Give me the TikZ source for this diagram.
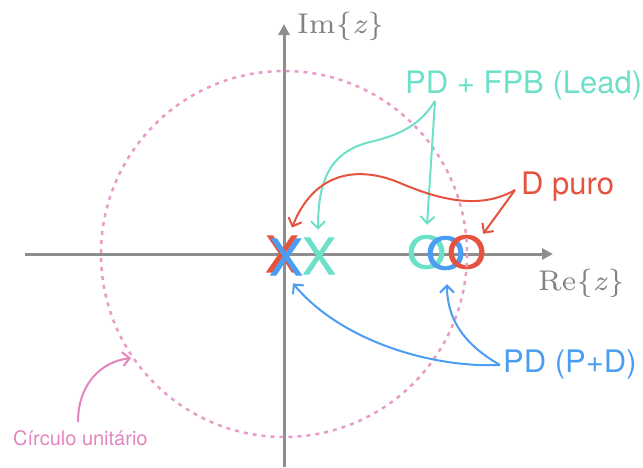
\documentclass[tikz,border=0pt]{standalone}
\usepackage{fontspec}
\newfontfamily\lab{TeX Gyre Heros}
\newfontfamily\mkf[FakeBold=1.2]{TeX Gyre Heros}
\newfontfamily\cmsev[ItalicFont=lmroman7-italic.otf]{lmroman7-regular.otf}
\usetikzlibrary{arrows.meta}
\definecolor{cteal}{HTML}{6CE0C9}
\definecolor{cred}{HTML}{E5533F}
\definecolor{cblue}{HTML}{4B9DF2}
\definecolor{cpink}{HTML}{E585C0}
\definecolor{cpinkc}{HTML}{E99CC9}
\definecolor{axgray}{HTML}{8E8E8E}
\definecolor{labgray}{HTML}{828282}
\begin{document}
\begin{tikzpicture}[x=1pt,y=-1pt,
  lbl/.style={inner sep=0pt,anchor=base west,font=\lab\fontsize{31}{31}\selectfont},
  mk/.style={inner sep=0pt,font=\mkf\fontsize{50}{50}\selectfont},
  conn/.style={line width=2pt,-{Straight Barb[length=7pt,width=14pt,line width=2pt]}},
  axis/.style={line width=3pt,draw=axgray,-{Triangle[length=11pt,width=11pt]}},
  axlbl/.style={inner sep=0pt,anchor=base west,text=labgray,font=\cmsev\fontsize{28.5}{28.5}\selectfont}]
\useasboundingbox (0,0) rectangle (643,467);
% axes
\coordinate (hl) at (25,254);
\coordinate (hr) at (553,254);
\coordinate (vb) at (284,467);
\coordinate (vt) at (284,24);
\coordinate (c) at (284,254);
\draw[axis] (hl) -- (hr);
\draw[axis] (vb) -- (vt);
\node[axlbl] (im) at (297,33) {Im\{\textit{z}\}};
\node[axlbl] (re) at (538,290) {Re\{\textit{z}\}};
% markers
\node[mk,text=cteal] (xt) at (319,256) {X};
\node[mk,text=cred] (xr) at (282,254) {X};
\node[mk,text=cblue] (xb) at (286,257) {X};
\node[mk,text=cteal] (ot) at (426.5,252) {\scalebox{1}[0.89]{O}};
\node[mk,text=cblue] (ob) at (445.5,253) {\scalebox{1}[0.89]{O}};
\node[mk,text=cred] (or) at (466.5,252) {\scalebox{1}[0.89]{O}};
% unit circle
\draw[cpinkc,line width=2.5pt,dash pattern=on 4pt off 5pt] (c) circle[radius=183];
% labels
\node[lbl,text=cteal] (lead) at (405,93) {PD + FPB (Lead)};
\node[lbl,text=cred] (dp) at (521,194) {D puro};
\node[lbl,text=cblue] (pd) at (503,372) {PD (P+D)};
\node[inner sep=0pt,anchor=base west,text=cpink,font=\lab\fontsize{20}{20}\selectfont] (circ) at (13,445) {Círculo unitário};
\coordinate (ucp) at (131,358);
% connectors
\draw[conn,cteal] ([xshift=30pt,yshift=-8pt]lead.base west) .. controls (420,125) and (400,135) .. (370,142) .. controls (330,152) and (318,180) .. ([xshift=-1pt,yshift=8pt]xt.north);
\draw[conn,cteal] ([xshift=30pt,yshift=-8pt]lead.base west) -- ([xshift=0.5pt,yshift=10pt]ot.north);
\draw[conn,cred] ([xshift=-6pt,yshift=4pt]dp.base west) .. controls (480,210) and (440,200) .. (400,183) .. controls (360,166) and (315,170) .. ([xshift=10pt,yshift=8pt]xr.north);
\draw[conn,cred] ([xshift=-6pt,yshift=4pt]dp.base west) -- ([xshift=-3pt,yshift=1pt]or.north east);
\draw[conn,cblue] ([xshift=-3pt,yshift=7pt]pd.base west) .. controls (430,368) and (340,340) .. ([xshift=7pt,yshift=-8pt]xb.south);
\draw[conn,cblue] ([xshift=-3pt,yshift=7pt]pd.base west) .. controls (465,345) and (447,320) .. ([xshift=1.5pt,yshift=-14pt]ob.south);
\draw[conn,cpink] ([xshift=65pt,yshift=23pt]circ.base west) .. controls (78,385) and (100,362) .. (ucp);
\end{tikzpicture}
\end{document}
